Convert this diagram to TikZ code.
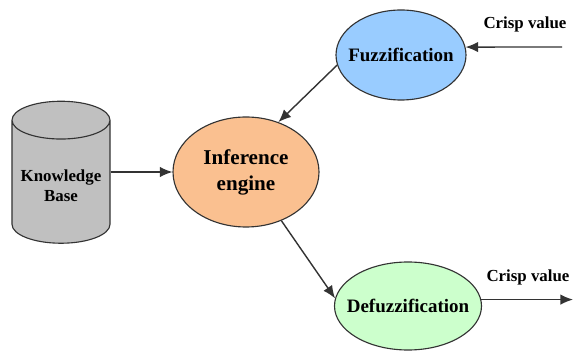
\documentclass[tikz,border=0pt]{standalone}
\usepackage{fontspec}
\setmainfont{Liberation Serif}
\usepackage{tikz}
\usetikzlibrary{shapes,positioning,calc}
\usetikzlibrary{shapes.geometric}
\usetikzlibrary{arrows.meta}
\definecolor{pesca}{RGB}{250,192,144}
\definecolor{celeste}{RGB}{153,204,255}
\definecolor{verdino}{RGB}{204,255,204}
\definecolor{grigio}{RGB}{192,192,192}
\tikzstyle{blocco} = [ellipse, draw=black!80, thick, text centered, inner sep=0pt]
\tikzstyle{archivio} = [cylinder, shape border rotate=90, aspect=0.42, draw=black!80, thick, fill=grigio, align=center]
\tikzstyle{arrow} = [draw=black!80, line width=1pt, -{Latex[length=9pt,width=7.5pt]}]

\begin{document}
\begin{tikzpicture}
	\useasboundingbox (0,0) rectangle (14.375,8.775);
	\node (kb) at (1.525,4.125) [archivio, minimum width=2.45cm, minimum height=3.55cm, font=\bfseries\fontsize{12}{14}\selectfont] {Knowledge\\Base};
	\node (inf) at (6.15,4.475) [blocco, fill=pesca, minimum width=3.65cm, minimum height=2.75cm, align=center, font=\bfseries\fontsize{15}{18.5}\selectfont] {\makebox[0pt]{Inference}\\\makebox[0pt]{engine}};
	\node (fuz) at (10.025,7.4) [blocco, fill=celeste, minimum width=3.25cm, minimum height=2.25cm, font=\bfseries\fontsize{13.5}{16}\selectfont] {\makebox[0pt]{Fuzzification}};
	\node (defuz) at (10.2,1.125) [blocco, fill=verdino, minimum width=3.675cm, minimum height=2.2cm, font=\bfseries\fontsize{13.5}{16}\selectfont] {\makebox[0pt]{Defuzzification}};
	\coordinate (cin) at (14.05,7.6);
	\coordinate (cout) at (14.325,1.3);
	\node (lin) at (13.125,8.175) [font=\bfseries\fontsize{12}{14}\selectfont] {Crisp value};
	\node (lout) at (13.2,1.85) [font=\bfseries\fontsize{12}{14}\selectfont] {Crisp value};
	
	\draw[arrow] (cin) -- (fuz.7);
	\draw[arrow] (fuz.189) -- (inf.57);
	\draw[arrow] (kb.east |- inf.west) -- (inf.west);
	\draw[arrow] (inf.306) -- (defuz.174);
	\draw[arrow] (defuz.5) -- (defuz.5 -| cout);
\end{tikzpicture}
\end{document}
